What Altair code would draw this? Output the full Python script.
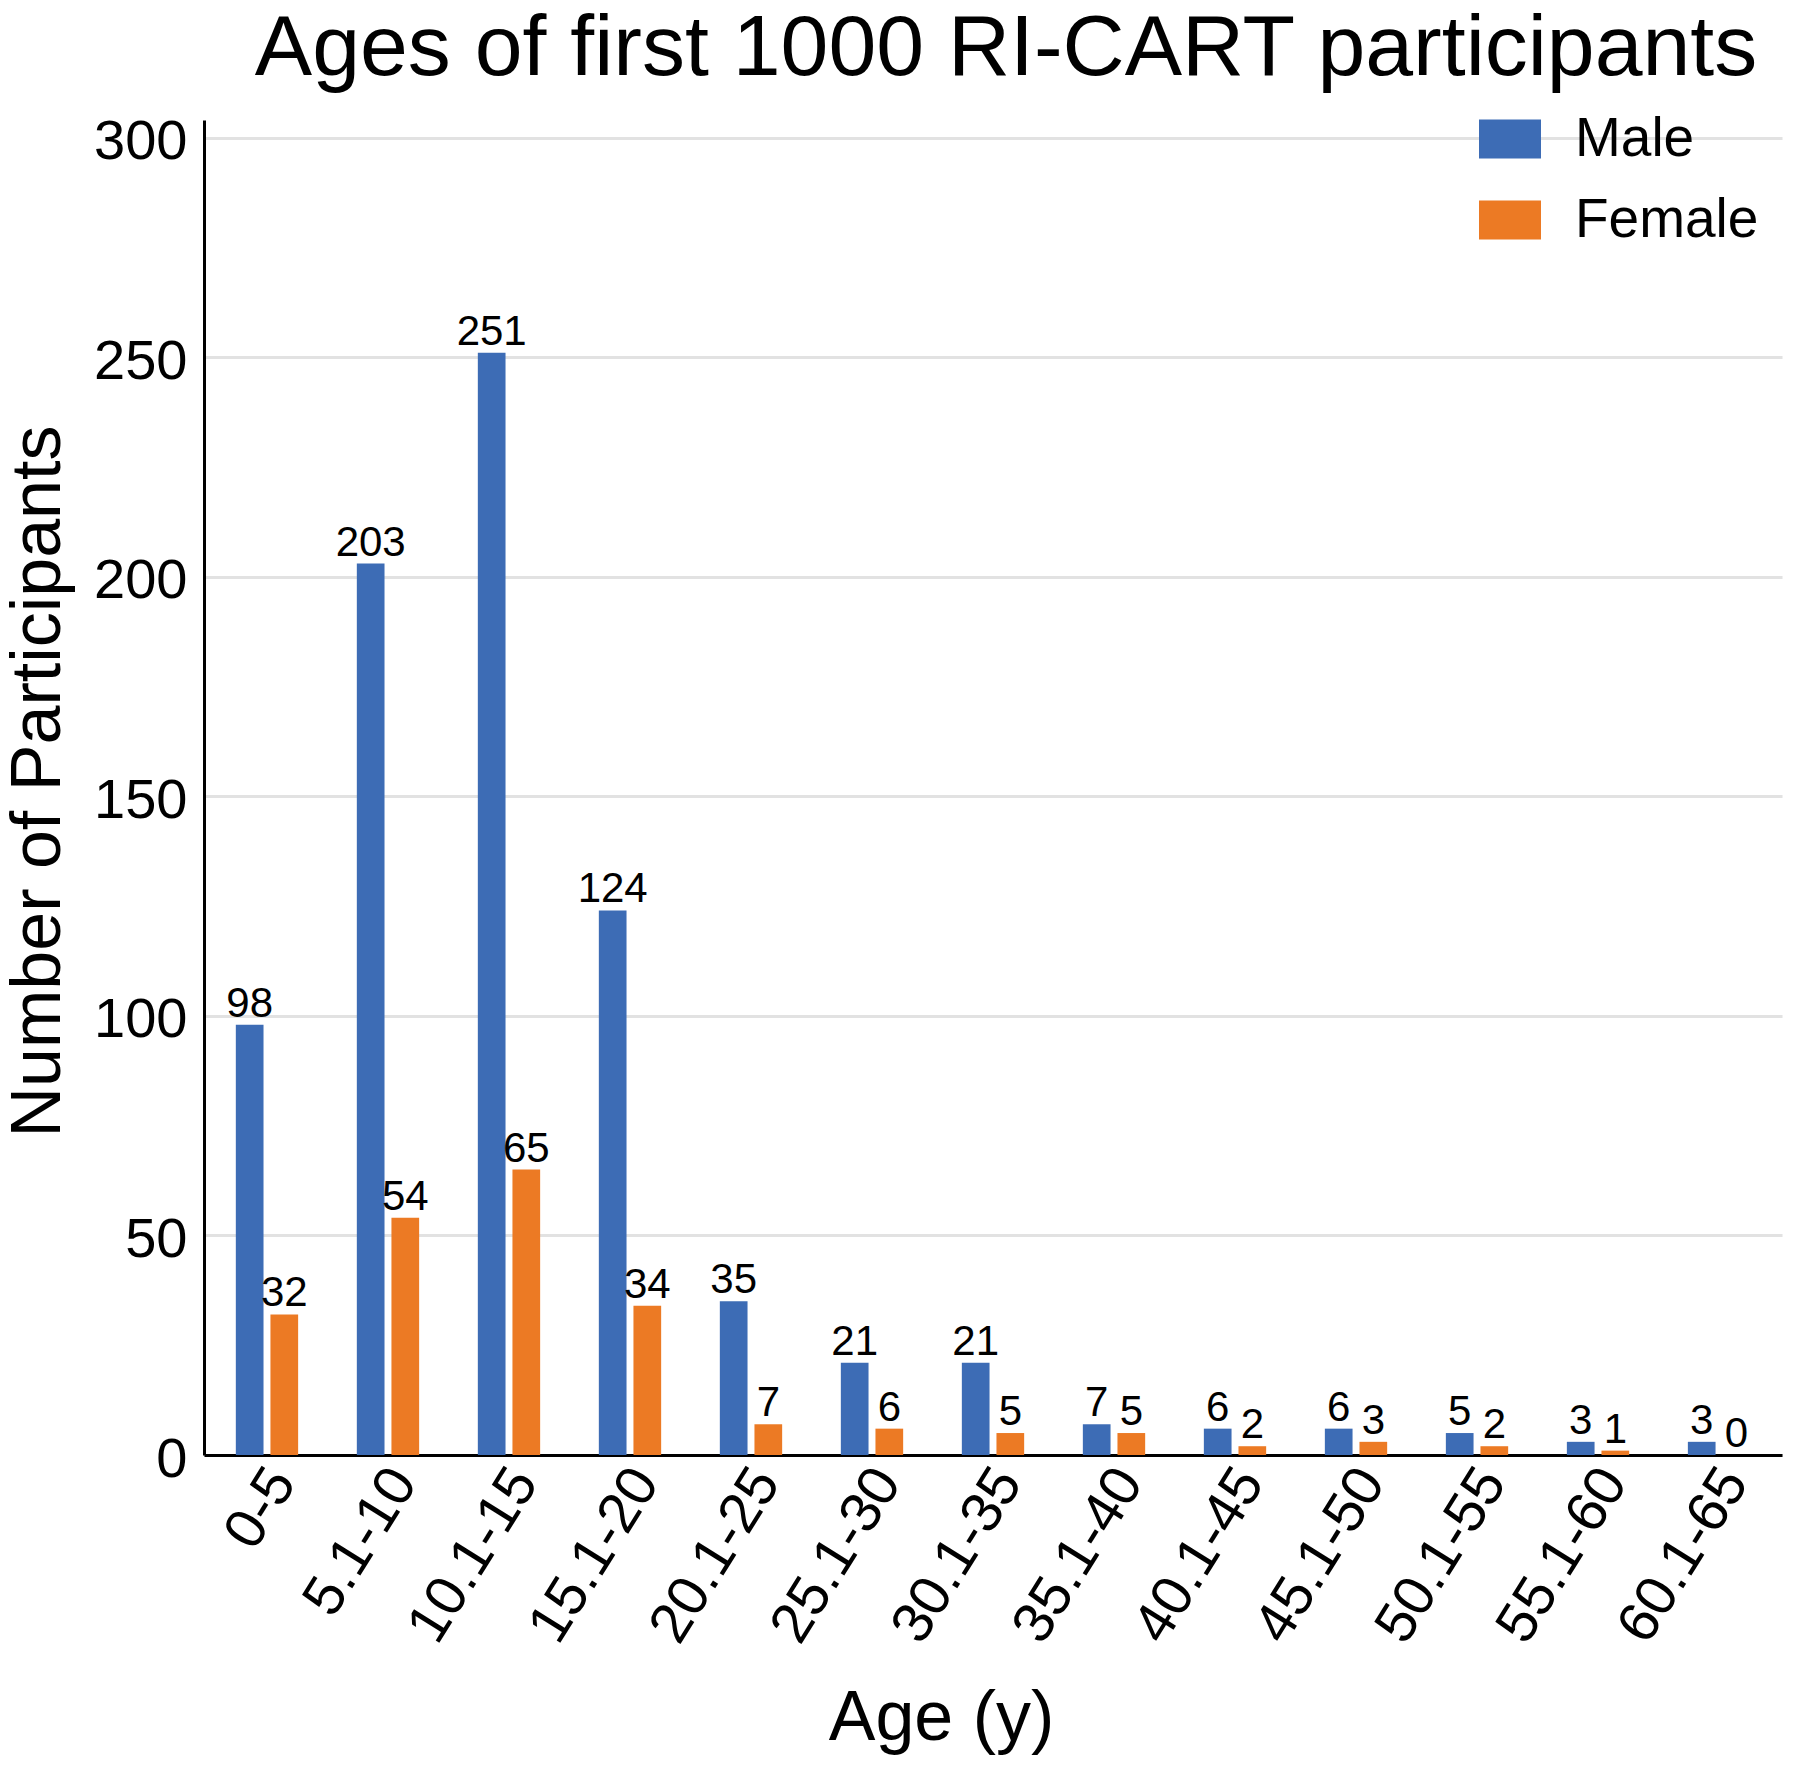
import altair as alt
import pandas as pd

ages = ["0-5", "5.1-10", "10.1-15", "15.1-20", "20.1-25", "25.1-30", "30.1-35",
        "35.1-40", "40.1-45", "45.1-50", "50.1-55", "55.1-60", "60.1-65"]
male = [98, 203, 251, 124, 35, 21, 21, 7, 6, 6, 5, 3, 3]
female = [32, 54, 65, 34, 7, 6, 5, 5, 2, 3, 2, 1, 0]
sexes = ["Male", "Female"]
colors = ["#3D6CB5", "#EC7A24"]
y_ticks = [0, 50, 100, 150, 200, 250, 300]

rows = []
for a, m, f in zip(ages, male, female):
    rows.append({"age": a, "sex": "Male", "n": m})
    rows.append({"age": a, "sex": "Female", "n": f})
df = pd.DataFrame(rows)

FONT = "Liberation Sans"

x_enc = alt.X(
    "age:N", sort=ages, title="Age (y)",
    scale=alt.Scale(paddingInner=0.485, paddingOuter=0.263),
    axis=alt.Axis(
        labelAngle=302, labelFontSize=57, labelFont=FONT, labelColor="black",
        labelLimit=500, labelOffset=16,
        ticks=False, domainColor="black", domainWidth=3, labelPadding=18,
        titleFontSize=70, titleFont=FONT, titleFontWeight="normal", titleColor="black",
        titleX=737, titleY=284, titleBaseline="alphabetic", grid=False,
    ),
)
xoff = alt.XOffset("sex:N", sort=sexes, scale=alt.Scale(paddingInner=0.2, paddingOuter=0))
y_enc = alt.Y(
    "n:Q", scale=alt.Scale(domain=[0, 304], nice=False, zero=True),
    title="Number of Participants",
    axis=alt.Axis(
        values=y_ticks, labelFontSize=56, labelFont=FONT, labelColor="black",
        labelOffset=4,
        ticks=False, labelPadding=17, domainColor="black", domainWidth=3,
        gridColor="#e2e2e2", gridWidth=3,
        titleFontSize=70, titleFont=FONT, titleFontWeight="normal", titleColor="black",
        titleX=-145, titleY=661, titleBaseline="alphabetic",
    ),
)
color_enc = alt.Color(
    "sex:N", sort=sexes,
    scale=alt.Scale(domain=sexes, range=colors),
    legend=alt.Legend(
        title=None, orient="none", legendX=1275, legendY=-12,
        symbolType="M-1,-0.63H1V0.63H-1Z", symbolSize=3844, symbolStrokeWidth=0,
        symbolOpacity=1, labelFontSize=55, labelFont=FONT, labelColor="black",
        labelLimit=400, labelOffset=34, rowPadding=22, padding=0,
    ),
)

base = alt.Chart(df)
bars = base.mark_bar().encode(x=x_enc, xOffset=xoff, y=y_enc, color=color_enc)
labels = base.mark_text(baseline="alphabetic", dy=-8, fontSize=42, font=FONT, color="black").encode(
    x=alt.X("age:N", sort=ages), xOffset=alt.XOffset("sex:N", sort=sexes), y="n:Q", text="n:Q"
)

chart = (bars + labels).properties(
    width=1578, height=1335,
    autosize="none",
    padding={"left": 196, "top": 112, "right": 10, "bottom": 300},
    title=alt.TitleParams(
        "Ages of first 1000 RI-CART participants", fontSize=86, font=FONT,
        fontWeight="normal", anchor="middle", dx=13, dy=99, offset=46,
        baseline="alphabetic", color="black",
    ),
).configure_view(stroke=None)

chart.save("out.html", embed_options={"renderer": "svg", "actions": False})
